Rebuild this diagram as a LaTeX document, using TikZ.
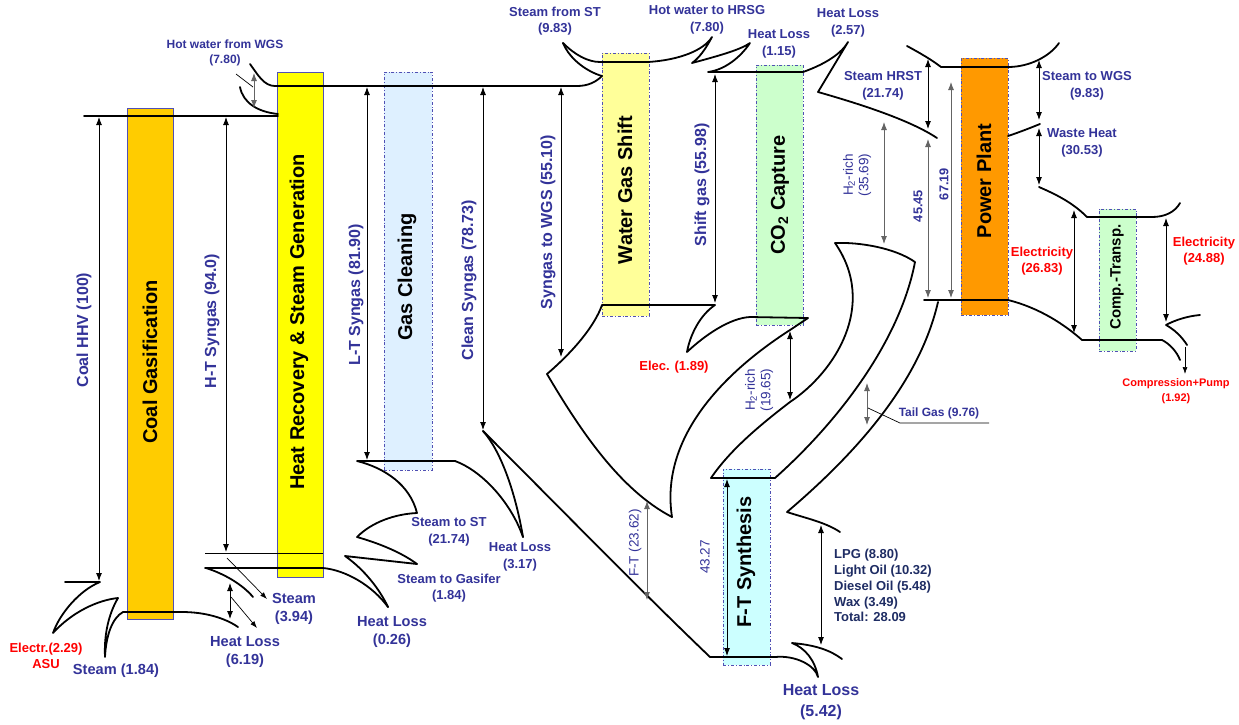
\documentclass[tikz,border=0pt]{standalone}
\usepackage{fontspec}
\setmainfont{Liberation Sans}
\usetikzlibrary{arrows.meta}
\definecolor{lblue}{RGB}{51,51,153}
\definecolor{dnavy}{RGB}{31,45,100}
\definecolor{lred}{RGB}{255,0,0}
\definecolor{dimgray}{RGB}{100,100,100}
\definecolor{barborder}{RGB}{80,80,180}
\definecolor{cgfill}{RGB}{255,204,0}
\definecolor{hrfill}{RGB}{255,255,0}
\definecolor{gcfill}{RGB}{222,240,255}
\definecolor{wgsfill}{RGB}{255,255,153}
\definecolor{cofill}{RGB}{204,255,204}
\definecolor{ppfill}{RGB}{255,153,0}
\definecolor{ftfill}{RGB}{204,255,255}
\newcommand\myfbar{\fontsize{20}{24}\selectfont\bfseries}
\newcommand\myfax{\fontsize{16}{19}\selectfont\bfseries}
\newcommand\myfaxr{\fontsize{13.5}{15.5}\selectfont}
\newcommand\myfnum{\fontsize{12.8}{15}\selectfont\bfseries}
\newcommand\myflab{\fontsize{13}{16.5}\selectfont\bfseries}
\newcommand\myfmid{\fontsize{14.6}{18}\selectfont\bfseries}
\newcommand\myfbig{\fontsize{16}{21}\selectfont\bfseries}
\newcommand\myftop{\fontsize{12}{15.5}\selectfont\bfseries}
\newcommand\myfsm{\fontsize{11}{14.5}\selectfont\bfseries}
\newcommand\myfct{\fontsize{15}{18}\selectfont\bfseries}
\begin{document}
\begin{tikzpicture}[x=1pt,y=-1pt,
  flow/.style={line width=1.8pt,line join=round,line cap=round},
  dim/.style={line width=0.9pt,{Latex[length=8pt,width=6pt]}-{Latex[length=8pt,width=6pt]}},
  dimg/.style={dim,draw=dimgray},
  onearrow/.style={line width=0.7pt,-{Latex[length=7pt,width=5pt]}},
  lead/.style={line width=0.7pt},
  barbox/.style={draw=barborder,line width=0.8pt,anchor=north west,inner sep=0pt,outer sep=0pt},
  dbarbox/.style={barbox,dash dot},
  bartext/.style={rotate=90,font=\myfbar,text=black},
  axlab/.style={rotate=90,font=\myfax,text=lblue},
  lab/.style={font=\myflab,text=lblue,align=center,inner sep=0pt}]
\useasboundingbox (0,0) rectangle (1239,724);
\fill[white] (0,0) rectangle (1239,724);
% bars
\node[barbox,fill=cgfill,minimum width=46pt,minimum height=511pt] (cg) at (127,108) {};
\node[barbox,fill=hrfill,minimum width=46pt,minimum height=505pt] (hr) at (277,72) {};
\node[dbarbox,fill=gcfill,minimum width=48pt,minimum height=398pt] (gc) at (384,72) {};
\node[dbarbox,fill=wgsfill,minimum width=47pt,minimum height=263pt] (wgs) at (602,53) {};
\node[dbarbox,fill=cofill,minimum width=47pt,minimum height=260pt] (co) at (756,65) {};
\node[dbarbox,fill=ppfill,minimum width=47pt,minimum height=257pt] (pp) at (961,58) {};
\node[dbarbox,fill=cofill,minimum width=37pt,minimum height=142pt] (ct) at (1099,209) {};
\node[dbarbox,fill=ftfill,minimum width=47pt,minimum height=196pt] (ft) at (723,469) {};
% bar texts
\node[bartext] (cgt) at (150,362) {Coal Gasification};
\node[bartext] (hrt) at (299,322) {Heat Recovery \& Steam Generation};
\node[bartext] (gct) at (407,277) {Gas Cleaning};
\node[bartext] (wgst) at (625,190) {Water Gas Shift};
\node[bartext] (cot) at (780,195) {CO\textsubscript{2} Capture};
\node[bartext] (ppt) at (984,181) {Power Plant};
\node[bartext,font=\myfct] (ctt) at (1117,277) {Comp.-Transp.};
\node[bartext] (ftt) at (746,562) {F-T Synthesis};
% axis labels
\node[axlab] (hhv) at (84,330) {Coal HHV (100)};
\node[axlab] (hts) at (212,321) {H-T Syngas (94.0)};
\node[axlab] (lts) at (356,295) {L-T Syngas (81.90)};
\node[axlab] (cls) at (469,280) {Clean Syngas (78.73)};
\node[axlab] (swg) at (548,222) {Syngas to WGS (55.10)};
\node[axlab] (shg) at (702,185) {Shift gas (55.98)};
\node[axlab,font=\myfaxr] (ftl) at (635,543) {F-T (23.62)};
\node[axlab,font=\myfaxr] (ftn) at (705,557) {43.27};
\node[axlab,font=\myfnum] (n4545) at (918,206) {45.45};
\node[axlab,font=\myfnum] (n6719) at (944,184) {67.19};
\node[axlab,font=\myfaxr,align=center] (h2a) at (857,175) {H\textsubscript{2}-rich\\(35.69)};
\node[axlab,font=\myfaxr,align=center] (h2b) at (759,390) {H\textsubscript{2}-rich\\(19.65)};
% coal gasification flows
\draw[flow] (84,116) -- (278,116);
\draw[flow] (65,582) -- (100,582) .. controls (80,590) and (60,613) .. (53,633)
  .. controls (72,612) and (98,600) .. (118,598)
  .. controls (108,615) and (104,636) .. (105,657)
  .. controls (106,636) and (112,618) .. (123,612)
  -- (182,612) .. controls (205,612) and (225,618) .. (238,627);
\draw[dim] (99,117) -- (99,581);
% heat recovery
\draw[flow] (250,64) .. controls (258,75) and (264,86) .. (275,86) -- (577,86) .. controls (588,86) and (596,82) .. (602,76);
\draw[flow] (240,87) .. controls (243,103) and (258,112) .. (278,114);
\draw[dimg] (254,73) -- (254,108);
\draw[lead] (236,74) -- (253,87);
\draw[dim] (226,117) -- (226,552);
\draw[line width=1pt] (205,553) -- (323,553);
\draw[flow] (205,568) -- (323,568) .. controls (345,570) and (372,585) .. (388,607);
\draw[flow] (206,568) .. controls (225,574) and (243,585) .. (253,597);
\draw[dim] (230,583) -- (230,619);
\draw[onearrow] (227,558) -- (267,599);
\draw[onearrow] (231,597) -- (257,628);
% gas cleaning
\draw[dim] (367,87) -- (367,460);
\draw[flow] (417,564) -- (345,556) .. controls (365,570) and (380,590) .. (388,607);
\draw[flow] (455,461) -- (357,461) .. controls (385,468) and (410,485) .. (417,513)
  .. controls (395,514) and (372,522) .. (357,537)
  .. controls (385,545) and (405,555) .. (417,564);
\draw[dim] (483,87) -- (483,430);
\draw[flow] (455,461) .. controls (480,470) and (510,500) .. (523,537);
\draw[flow] (483,431) .. controls (500,450) and (515,490) .. (523,537);
\draw[flow] (483,431) .. controls (560,508) and (640,590) .. (710,657) -- (775,657);
% water gas shift and CO2 capture
\draw[flow] (563,43) .. controls (575,55) and (588,62) .. (600,62) -- (648,62)
  .. controls (680,60) and (704,50) .. (712,37) .. controls (705,50) and (699,58) .. (692,63)
  .. controls (718,56) and (740,50) .. (750,43) .. controls (740,58) and (724,70) .. (708,72)
  -- (803,72) .. controls (820,66) and (840,56) .. (848,42) -- (818,92)
  .. controls (860,104) and (910,120) .. (937,138);
\draw[flow] (563,43) .. controls (570,60) and (588,72) .. (602,76);
\draw[dim] (561,87) -- (561,357);
\draw[flow] (547,374) .. controls (575,350) and (595,325) .. (602,305) -- (715,305)
  .. controls (700,315) and (690,335) .. (687,352) .. controls (705,335) and (730,318) .. (750,317)
  -- (808,318) -- (790,330) .. controls (720,375) and (660,440) .. (672,517);
\draw[flow] (547,374) .. controls (580,430) and (620,490) .. (672,517);
\draw[dimg] (647,501) -- (647,600);
\draw[dim] (715,74) -- (715,303);
\draw[dim] (790,331) -- (790,400);
% hook and tail gas
\draw[flow] (711,478) .. controls (730,450) and (760,425) .. (790,402)
  .. controls (835,372) and (878,305) .. (835,243)
  .. controls (860,242) and (895,248) .. (915,262)
  .. controls (900,340) and (840,420) .. (775,478);
\draw[flow] (711,478) -- (775,478);
\draw[dimg] (884,122) -- (884,244);
\draw[flow] (938,302) .. controls (920,380) and (860,450) .. (787,512) .. controls (805,518) and (825,522) .. (840,532);
\draw[dimg] (867,383) -- (867,425);
\draw[lead] (868,408) -- (900,423) -- (989,423);
% F-T products
\draw[flow] (775,657) .. controls (795,655) and (815,665) .. (818,677)
  .. controls (815,660) and (805,648) .. (792,643) .. controls (815,645) and (830,650) .. (842,659);
\draw[dim] (821,525) -- (821,645);
\draw[dim] (727,479) -- (727,656);
% power plant
\draw[flow] (907,46) .. controls (920,53) and (932,60) .. (941,67) -- (1008,67) .. controls (1030,67) and (1050,56) .. (1059,43);
\draw[dim] (928,59) -- (928,129);
\draw[dimg] (928,139) -- (928,298);
\draw[dimg] (951,82) -- (951,298);
\draw[flow] (924,300) -- (1008,300) .. controls (1040,308) and (1065,325) .. (1082,340) -- (1162,340) .. controls (1170,344) and (1177,352) .. (1180,360);
\draw[flow] (1008,136) .. controls (1020,132) and (1030,128) .. (1040,124);
\draw[dim] (1039,60) -- (1039,120);
\draw[dim] (1039,128) -- (1039,185);
\draw[flow] (1039,187) .. controls (1055,194) and (1072,202) .. (1087,217) -- (1152,217) .. controls (1165,217) and (1175,212) .. (1180,203);
\draw[dim] (1074,210) -- (1074,333);
\draw[dim] (1166,218) -- (1166,322);
\draw[flow] (1200,315) .. controls (1188,316) and (1175,320) .. (1166,325) .. controls (1175,330) and (1182,337) .. (1187,345);
\draw[onearrow] (1185,347) -- (1185,374);
% labels
\node[lab,font=\myftop] (lhw) at (225,53) {Hot water from WGS\\(7.80)};
\node[lab] (lsst) at (555,21) {Steam from ST\\(9.83)};
\node[lab] (lhwh) at (707,20) {Hot water to HRSG\\(7.80)};
\node[lab] (lhl1) at (779,44) {Heat Loss\\(1.15)};
\node[lab] (lhl2) at (848,23) {Heat Loss\\(2.57)};
\node[lab] (lhrst) at (883,86) {Steam HRST\\(21.74)};
\node[lab] (lswgs) at (1087,86) {Steam to WGS\\(9.83)};
\node[lab] (lwh) at (1082,143) {Waste Heat\\(30.53)};
\node[lab,text=lred] (lel1) at (1042,261) {Electricity\\(26.83)};
\node[lab,text=lred] (lel2) at (1204,251) {Electricity\\(24.88)};
\node[lab,text=lred,font=\myfsm] (lcp) at (1176,391) {Compression+Pump\\(1.92)};
\node[lab,font=\myftop] (ltg) at (939,413) {Tail Gas (9.76)};
\node[lab,text=dnavy,align=left,anchor=north west,font=\fontsize{13}{15.8}\selectfont\bfseries] (lprod) at (834,549) {LPG (8.80)\\Light Oil (10.32)\\Diesel Oil (5.48)\\Wax (3.49)\\Total: 28.09};
\node[lab,font=\myfbig] (lhl5) at (821,702) {Heat Loss\\(5.42)};
\node[lab,font=\myfmid] (lhl026) at (392,632) {Heat Loss\\(0.26)};
\node[lab] (lsst2) at (449,532) {Steam to ST\\(21.74)};
\node[lab] (lsgas) at (449,588) {Steam to Gasifer\\(1.84)};
\node[lab] (lhl317) at (520,557) {Heat Loss\\(3.17)};
\node[lab,text=lred] (lelec) at (674,367) {Elec. (1.89)};
\node[lab,font=\myfmid] (lst394) at (294,609) {Steam\\(3.94)};
\node[lab,font=\myfmid] (lhl619) at (245,652) {Heat Loss\\(6.19)};
\node[lab,text=lred] (lasu) at (46,656) {Electr.(2.29)\\ASU};
\node[lab,font=\myfmid] (lst184) at (116,671) {Steam (1.84)};
\end{tikzpicture}
\end{document}
